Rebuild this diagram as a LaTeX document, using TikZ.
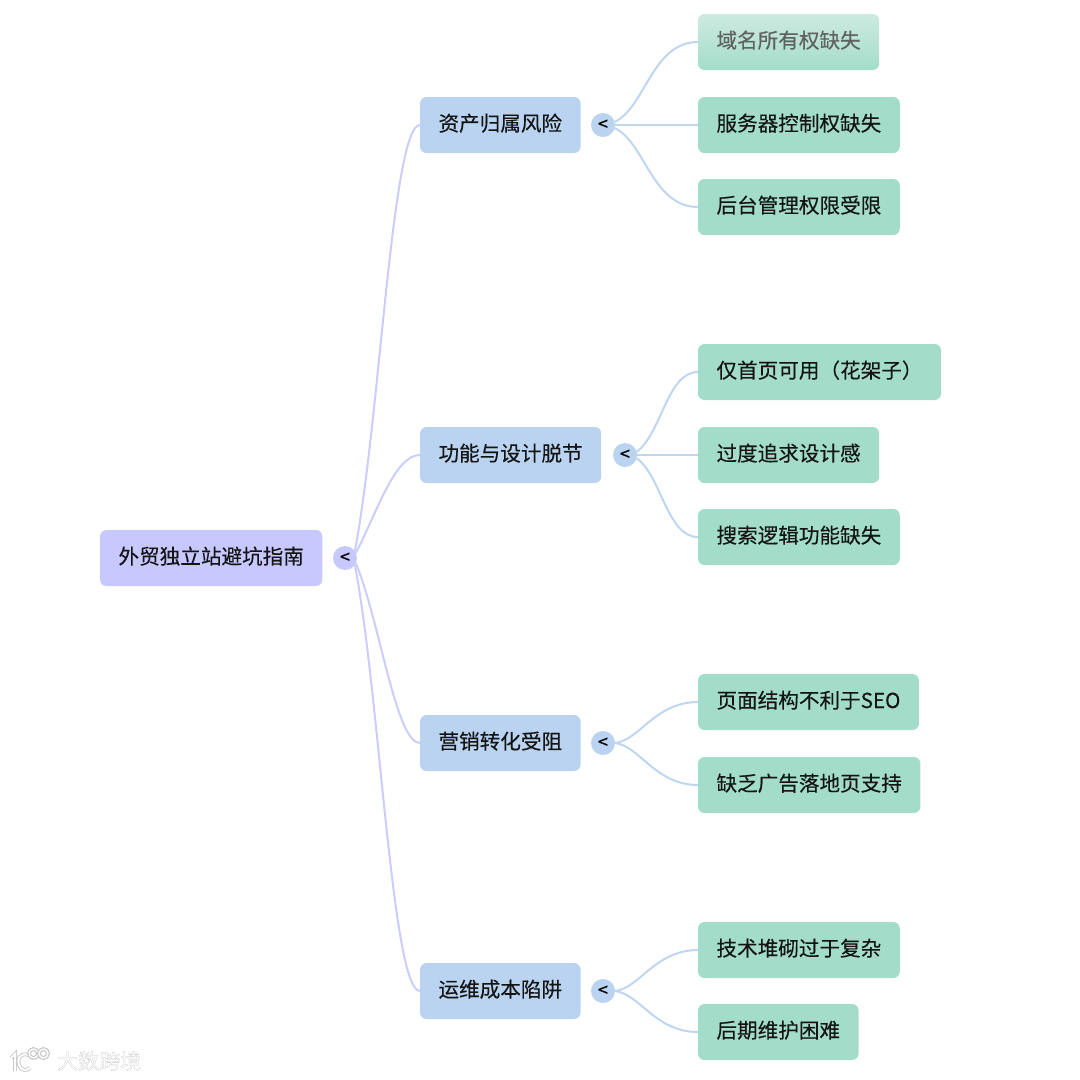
\documentclass[tikz,border=0pt]{standalone}
\usepackage{fontspec}
\setmainfont[FakeBold=0.25]{Noto Sans CJK SC}
\newfontfamily\markfont[FakeBold=1.2]{Noto Sans CJK SC}
\newfontfamily\foldfont[FakeBold=0.6]{Noto Sans CJK SC}
\usetikzlibrary{positioning}
\definecolor{rootfill}{HTML}{C6C8FE}
\definecolor{topicfill}{HTML}{B9D3F0}
\definecolor{leaffill}{HTML}{A3DDCA}
\definecolor{leaffade}{HTML}{CDEAE0}
\definecolor{rootline}{HTML}{CBCDFD}
\definecolor{topicline}{HTML}{BFD6F0}
\definecolor{inktext}{HTML}{141414}

\begin{document}
\begin{tikzpicture}[
            x=1pt, y=-1pt,
            box/.style={rectangle, rounded corners=6.5pt, minimum height=56pt, inner xsep=18.5pt, inner ysep=0pt,
                outer sep=0pt, font=\fontsize{20.6}{24}\selectfont, text=inktext, text height=16pt, text depth=4pt, anchor=west},
            root/.style={box, fill=rootfill},
            topic/.style={box, fill=topicfill},
            leaf/.style={box, fill=leaffill},
            leaf faded/.style={box, top color=leaffade, bottom color=leaffill, text=black!62},
            fold/.style={circle, minimum size=24pt, inner sep=0pt, outer sep=0pt, text=black,
                font=\fontsize{18}{18}\foldfont},
            root link/.style={rootline, line width=2pt},
            topic link/.style={topicline, line width=2pt},
            logo/.style={white, line width=2pt, preaction={draw, black!22, line width=3.8pt}},
        ]
        \useasboundingbox (0,0) rectangle (1080,1080);

        \node[root] (guide) at (100,558) {外贸独立站避坑指南};
        \node[fold, fill=rootfill] (foldGuide) at (345,558) {<};

        \node[topic] (asset) at (420,125) {资产归属风险};
        \node[topic] (design) at (420,455) {功能与设计脱节};
        \node[topic] (market) at (420,743) {营销转化受阻};
        \node[topic] (upkeep) at (420,991) {运维成本陷阱};

        \node[fold, fill=topicfill] (foldAsset) at (603,125) {<};
        \node[fold, fill=topicfill] (foldDesign) at (625,455) {<};
        \node[fold, fill=topicfill] (foldMarket) at (603,743) {<};
        \node[fold, fill=topicfill] (foldUpkeep) at (603,991) {<};

        \node[leaf faded] (domain) at (698,42) {域名所有权缺失};
        \node[leaf] (server) at (698,125) {服务器控制权缺失};
        \node[leaf] (admin) at (698,207) {后台管理权限受限};

        \node[leaf] (home) at (698,372) {仅首页可用（花架子）};
        \node[leaf] (style) at (698,455) {过度追求设计感};
        \node[leaf] (search) at (698,537) {搜索逻辑功能缺失};

        \node[leaf] (seo) at (698,702) {页面结构不利于SEO};
        \node[leaf] (landing) at (698,785) {缺乏广告落地页支持};

        \node[leaf] (stack) at (698,950) {技术堆砌过于复杂};
        \node[leaf] (later) at (698,1032) {后期维护困难};

        \draw[root link] (foldGuide.35) .. controls (380,420) and (392,125) .. (asset.west);
        \draw[root link] (foldGuide.25) .. controls (378,510) and (395,455) .. (design.west);
        \draw[root link] (foldGuide.-25) .. controls (380,622) and (396,743) .. (market.west);
        \draw[root link] (foldGuide.-35) .. controls (380,696) and (392,991) .. (upkeep.west);

        \draw[topic link] (foldAsset.15) .. controls (645,108) and (652,42) .. (domain.west);
        \draw[topic link] (foldAsset.east) -- (server.west);
        \draw[topic link] (foldAsset.-15) .. controls (645,142) and (652,207) .. (admin.west);

        \draw[topic link] (foldDesign.15) .. controls (662,433) and (667,372) .. (home.west);
        \draw[topic link] (foldDesign.east) -- (style.west);
        \draw[topic link] (foldDesign.-15) .. controls (662,477) and (667,537) .. (search.west);

        \draw[topic link] (foldMarket.east) .. controls (640,740) and (655,702) .. (seo.west);
        \draw[topic link] (foldMarket.east) .. controls (640,746) and (655,785) .. (landing.west);

        \draw[topic link] (foldUpkeep.east) .. controls (640,988) and (655,950) .. (stack.west);
        \draw[topic link] (foldUpkeep.east) .. controls (640,994) and (655,1032) .. (later.west);

        \draw[logo] (11,1058) -- (15,1054) -- (15,1071);
        \draw[logo] (29,1055) .. controls (19,1052) and (17,1060) .. (19,1065) .. controls (21,1071) and (27,1071) .. (30,1068);
        \draw[logo, line width=1.4pt, preaction={draw, black!22, line width=2.8pt}] (33.5,1053.5) circle[radius=4.5pt];
        \draw[logo, line width=1.4pt, preaction={draw, black!22, line width=2.8pt}] (43.5,1053.5) circle[radius=4.5pt];
        \node[font=\fontsize{21}{21}\markfont, text=white, inner sep=0pt, anchor=west] (brand) at (57,1061)
            {\special{pdf:code 0.78 G}大数跨境\special{pdf:code 0 G}};
\end{tikzpicture}
\end{document}
